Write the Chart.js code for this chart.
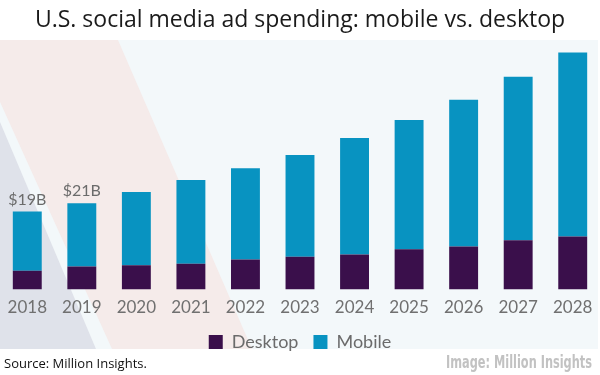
<!DOCTYPE html>
<html>
<head>
<meta charset="utf-8">
<script src="https://cdn.jsdelivr.net/npm/chart.js@4"></script>
<style>
  html, body { margin: 0; padding: 0; background: #ffffff; }
  #wrap { width: 600px; height: 375px; position: relative; }
</style>
</head>
<body>
<div id="wrap"><canvas id="c" width="600" height="375"></canvas></div>
<script>
// ---- Data ($ billions) ----
const years = ['2018','2019','2020','2021','2022','2023','2024','2025','2026','2027','2028'];
const desktop = [4.6, 5.6, 5.9, 6.3, 7.3, 8.0, 8.5, 9.8, 10.5, 12.0, 12.9];
const mobile  = [14.4, 15.4, 17.8, 20.3, 22.2, 24.7, 28.3, 31.4, 35.6, 39.7, 44.7];
const totalLabels = ['$19B', '$21B', '', '', '', '', '', '', '', '', ''];
const titleText = 'U.S. social media ad spending: mobile vs. desktop';
const sourceText = 'Source: Million Insights.';
const creditText = 'Image: Million Insights';

const bgPlugin = {
  id: 'bg',
  beforeDraw(chart) {
    const ctx = chart.ctx;
    ctx.save();
    ctx.fillStyle = '#ffffff';
    ctx.fillRect(0, 0, chart.width, chart.height);
    // panel
    ctx.fillStyle = '#f3f8fa';
    ctx.fillRect(0, 40, 598, 309);
    // pink band
    ctx.fillStyle = '#f5ebea';
    ctx.beginPath();
    ctx.moveTo(0, 40); ctx.lineTo(118, 40); ctx.lineTo(252, 349);
    ctx.lineTo(112, 349); ctx.lineTo(0, 102); ctx.closePath(); ctx.fill();
    // gray triangle
    ctx.fillStyle = '#dfe2ea';
    ctx.beginPath();
    ctx.moveTo(0, 122); ctx.lineTo(96, 349); ctx.lineTo(0, 349); ctx.closePath(); ctx.fill();
    ctx.restore();
  },
  afterDraw(chart) {
    const ctx = chart.ctx;
    ctx.save();
    ctx.textBaseline = 'middle';
    ctx.fillStyle = '#111111';
    ctx.font = '13px "Open Sans"';
    ctx.textAlign = 'left';
    ctx.fillText(sourceText, 4, 364);
    // condensed bold credit text, squeezed horizontally
    ctx.fillStyle = '#c2c2c2';
    ctx.font = 'bold 17px "DejaVu Sans"';
    const w = ctx.measureText(creditText).width;
    const targetW = 146;
    const sx = Math.min(1, targetW / w);
    ctx.translate(592, 364);
    ctx.scale(sx, 1);
    ctx.textAlign = 'right';
    ctx.fillText(creditText, 0, 0);
    ctx.restore();
  }
};

const labelPlugin = {
  id: 'totals',
  afterDatasetsDraw(chart) {
    const ctx = chart.ctx;
    const meta = chart.getDatasetMeta(1);
    ctx.save();
    ctx.font = '16px Lato';
    ctx.fillStyle = '#6b6b6b';
    ctx.textAlign = 'center';
    ctx.textBaseline = 'bottom';
    meta.data.forEach((bar, i) => {
      if (totalLabels[i]) ctx.fillText(totalLabels[i], bar.x, bar.y - 4);
    });
    ctx.restore();
  }
};

new Chart(document.getElementById('c'), {
  type: 'bar',
  data: {
    labels: years,
    datasets: [
      { label: 'Desktop', data: desktop, backgroundColor: '#3a0f4b' },
      { label: 'Mobile', data: mobile, backgroundColor: '#0893c1' }
    ]
  },
  options: {
    responsive: false,
    animation: false,
    devicePixelRatio: 1,
    layout: { padding: { left: 0, right: 0, top: 0, bottom: 14 } },
    datasets: { bar: { categoryPercentage: 1, barPercentage: 0.53 } },
    scales: {
      x: {
        stacked: true,
        grid: { display: false },
        border: { display: false },
        ticks: { color: '#707070', font: { family: 'Lato', size: 17 }, padding: 0 }
      },
      y: { stacked: true, display: false, min: 0, max: 60 }
    },
    plugins: {
      title: {
        display: true, text: titleText, color: '#1a1a1a',
        font: { family: 'Open Sans', size: 23, weight: 'normal' },
        padding: { top: 7, bottom: 8 }
      },
      legend: {
        display: true, position: 'bottom',
        labels: {
          color: '#6b6b6b', font: { family: 'Lato', size: 18 },
          boxWidth: 14, boxHeight: 14, padding: 15
        }
      },
      tooltip: { enabled: false }
    }
  },
  plugins: [bgPlugin, labelPlugin]
});
</script>
</body>
</html>
